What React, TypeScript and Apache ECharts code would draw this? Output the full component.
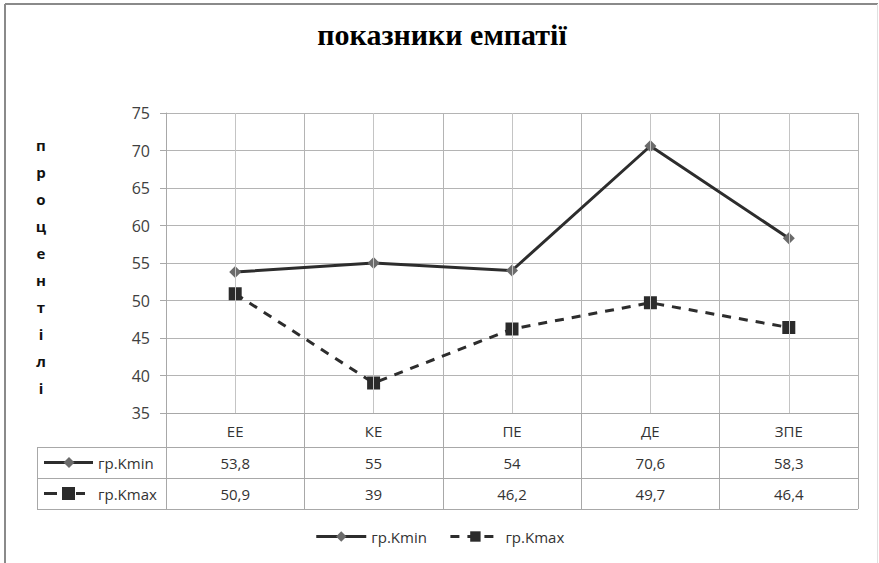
import React, { useEffect, useRef } from "react";
import * as echarts from "echarts";

const categories = ["ЕЕ", "КЕ", "ПЕ", "ДЕ", "ЗПЕ"];
const kminValues = [53.8, 55, 54, 70.6, 58.3];
const kmaxValues = [50.9, 39, 46.2, 49.7, 46.4];
const seriesNames = ["гр.Kmin", "гр.Kmax"];
const titleText = "показники емпатії";
const yAxisLetters = ["п", "р", "о", "ц", "е", "н", "т", "і", "л", "і"];

const W = 879;
const H = 563;
const GL = 166;
const GR = 858;
const GT = 113;
const GB = 413;
const FONT = "'Open Sans', 'Noto Sans', sans-serif";

const fmt = (v: number) => String(v).replace(".", ",");

export default function App() {
  const ref = useRef<HTMLDivElement>(null);
  useEffect(() => {
    if (!ref.current) return;
    const chart = echarts.init(ref.current, undefined, { renderer: "svg" });
    const cw = (GR - GL) / categories.length;
    const rowTop1 = 447;
    const rowTop2 = 478;
    const rowBot = 509;
    const tableLeft = 37;
    const lineColor = "#a8a8a8";
    const graphics: any[] = [];
    // outer frame
    graphics.push({ type: "line", shape: { x1: 5, y1: 4, x2: 878, y2: 4 }, style: { stroke: "#8a8a8a", lineWidth: 2 } });
    graphics.push({ type: "line", shape: { x1: 5, y1: 4, x2: 5, y2: 563 }, style: { stroke: "#8a8a8a", lineWidth: 2 } });
    graphics.push({ type: "line", shape: { x1: 877.5, y1: 4, x2: 877.5, y2: 563 }, style: { stroke: "#e0e0e0", lineWidth: 1 } });
    // title
    graphics.push({
      type: "text",
      x: 442,
      y: 49,
      style: {
        text: titleText,
        font: "bold 30px 'Liberation Serif', 'DejaVu Serif', serif",
        fill: "#000",
        align: "center",
        verticalAlign: "bottom",
      },
    });
    // vertical y-axis name letters
    yAxisLetters.forEach((ch, i) => {
      graphics.push({
        type: "text",
        x: 41,
        y: 145 + i * 27,
        style: {
          text: ch,
          font: `bold 15px ${FONT}`,
          fill: "#111",
          align: "center",
          verticalAlign: "middle",
        },
      });
    });
    // table horizontal lines
    [rowTop1, rowTop2, rowBot].forEach((y) => {
      graphics.push({ type: "line", shape: { x1: tableLeft, y1: y + 0.5, x2: GR, y2: y + 0.5 }, style: { stroke: lineColor, lineWidth: 1 } });
    });
    graphics.push({ type: "line", shape: { x1: tableLeft + 0.5, y1: rowTop1, x2: tableLeft + 0.5, y2: rowBot }, style: { stroke: lineColor, lineWidth: 1 } });
    // legend keys inside table
    const r1 = (rowTop1 + rowTop2) / 2;
    const r2 = (rowTop2 + rowBot) / 2;
    graphics.push({ type: "line", shape: { x1: 44, y1: r1, x2: 93, y2: r1 }, style: { stroke: "#2d2d2d", lineWidth: 3 } });
    graphics.push({ type: "polygon", shape: { points: [[69, r1 - 5.5], [74.5, r1], [69, r1 + 5.5], [63.5, r1]] }, style: { fill: "#6b6b6b" } });
    graphics.push({ type: "line", shape: { x1: 44, y1: r2, x2: 57, y2: r2 }, style: { stroke: "#2d2d2d", lineWidth: 3 } });
    graphics.push({ type: "line", shape: { x1: 76, y1: r2, x2: 85, y2: r2 }, style: { stroke: "#2d2d2d", lineWidth: 3 } });
    graphics.push({ type: "rect", shape: { x: 62, y: r2 - 6.5, width: 13, height: 13 }, style: { fill: "#2b2b2b" } });
    seriesNames.forEach((n, i) => {
      graphics.push({
        type: "text",
        x: 98,
        y: i === 0 ? r1 : r2,
        style: { text: n, font: `15px ${FONT}`, fill: "#333", align: "left", verticalAlign: "middle" },
      });
    });
    // table values
    [kminValues, kmaxValues].forEach((vals, si) => {
      vals.forEach((v, i) => {
        graphics.push({
          type: "text",
          x: GL + cw * (i + 0.5),
          y: si === 0 ? r1 : r2,
          style: { text: fmt(v), font: `15px ${FONT}`, fill: "#333", align: "center", verticalAlign: "middle" },
        });
      });
    });

    chart.setOption({
      animation: false,
      backgroundColor: "#fff",
      grid: { left: GL, right: W - GR, top: GT, bottom: H - GB, containLabel: false },
      xAxis: {
        type: "category",
        data: categories,
        boundaryGap: true,
        axisLine: { show: true, lineStyle: { color: lineColor, width: 1 } },
        axisTick: { show: true, length: rowBot - GB, lineStyle: { color: lineColor, width: 1 } },
        axisLabel: { color: "#333", fontSize: 15, fontFamily: FONT, margin: 10 },
        splitLine: { show: true, lineStyle: { color: "#b4b4b4", width: 1 } },
      },
      yAxis: {
        type: "value",
        min: 35,
        max: 75,
        interval: 5,
        axisLine: { show: true, lineStyle: { color: lineColor, width: 1 } },
        axisTick: { show: true, length: 6, lineStyle: { color: lineColor } },
        axisLabel: { color: "#404040", fontSize: 16, fontFamily: FONT, margin: 16 },
        splitLine: { show: true, lineStyle: { color: "#b4b4b4", width: 1 } },
      },
      legend: {
        bottom: 14,
        left: "center",
        itemWidth: 50,
        itemHeight: 13,
        itemGap: 22,
        lineStyle: { width: 3 },
        textStyle: { fontSize: 15, fontFamily: FONT, color: "#333" },
        data: seriesNames,
      },
      graphic: graphics,
      series: [
        {
          name: "grid-centers",
          type: "line",
          data: categories.map(() => null),
          z: 1,
          silent: true,
          legendHoverLink: false,
          markLine: {
            silent: true,
            symbol: ["none", "none"],
            label: { show: false },
            lineStyle: { type: "solid", color: "#c4c4c4", width: 1 },
            emphasis: { disabled: true },
            data: categories.map((c) => ({ xAxis: c })),
          },
        },
        {
          name: seriesNames[0],
          type: "line",
          data: kminValues,
          z: 3,
          symbol: "diamond",
          symbolSize: 12,
          lineStyle: { color: "#2d2d2d", width: 3, type: "solid" },
          itemStyle: { color: "#6b6b6b", borderWidth: 0 },
        },
        {
          name: seriesNames[1],
          type: "line",
          data: kmaxValues,
          z: 3,
          symbol: "rect",
          symbolSize: 13,
          lineStyle: { color: "#2d2d2d", width: 3, type: [9, 8] },
          itemStyle: { color: "#2b2b2b", borderWidth: 0 },
        },
      ],
    });
    return () => chart.dispose();
  }, []);
  return (
    <div
      ref={ref}
      style={{ position: "fixed", left: 0, top: 0, width: W, height: H, background: "#fff" }}
    />
  );
}
